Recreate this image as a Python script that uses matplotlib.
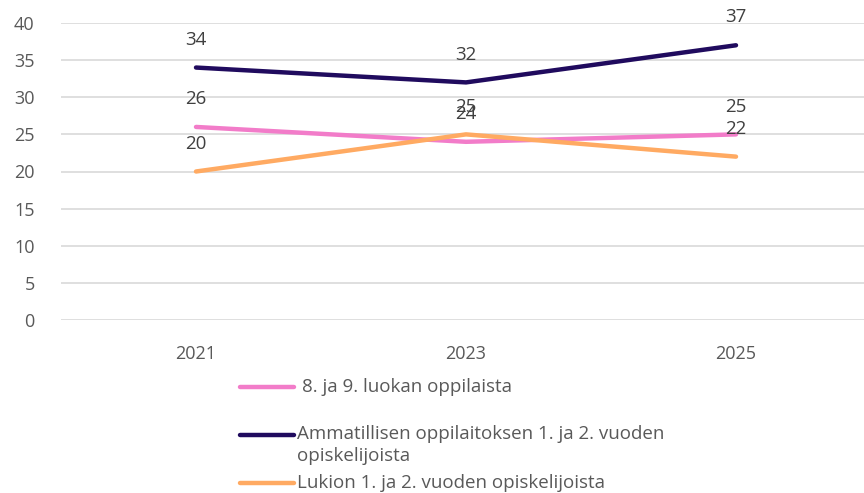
import matplotlib.pyplot as plt
from matplotlib.lines import Line2D

plt.rcParams['font.family'] = ['Open Sans', 'DejaVu Sans']

years = ['2021', '2023', '2025']
perus = [26, 24, 25]
ammatillinen = [34, 32, 37]
lukio = [20, 25, 22]

series_names = [
    '8. ja 9. luokan oppilaista',
    'Ammatillisen oppilaitoksen 1. ja 2. vuoden\nopiskelijoista',
    'Lukion 1. ja 2. vuoden opiskelijoista',
]
colors = ['#F27CC9', '#200B5E', '#FFAA62']
text_col = '#404040'
tick_col = '#595959'

W, H = 864, 493
fig = plt.figure(figsize=(W / 100, H / 100), dpi=100)
ax = fig.add_axes([61 / W, 173 / H, 803 / W, 297 / H])

x = range(len(years))
for vals, col in zip([perus, ammatillinen, lukio], colors):
    ax.plot(x, vals, color=col, lw=3.2, solid_capstyle='round', zorder=3)
    for xi, v in zip(x, vals):
        ax.annotate(str(v), (xi, v), xytext=(0, 20), textcoords='offset points',
                    ha='center', va='center', fontsize=13.5, color=text_col)

ax.set_ylim(0, 40)
ax.set_yticks(range(0, 41, 5))
ax.set_xlim(-0.5, 2.5 - 7 / 270)
ax.set_xticks(list(x))
ax.set_xticklabels(years)
ax.grid(axis='y', color='#D9D9D9', lw=1.2)
ax.set_axisbelow(True)
for s in ax.spines.values():
    s.set_visible(False)
ax.tick_params(length=0, labelsize=13, colors=tick_col)
ax.tick_params(axis='x', pad=18)
ax.tick_params(axis='y', pad=19)

# legend drawn by hand so the handle sits on the first text line
legend_rows = [(387, 302), (435, 297), (483, 297)]
for (ry, tx), name, col in zip(legend_rows, series_names, colors):
    fig.add_artist(Line2D([240 / W, 294 / W], [1 - ry / H, 1 - ry / H], color=col, lw=3.2,
                          solid_capstyle='round', transform=fig.transFigure))
    if '\n' in name:
        fig.text(tx / W, 1 - (ry - 10) / H, name, ha='left', va='top',
                 fontsize=13.5, color=tick_col, linespacing=1.3)
    else:
        fig.text(tx / W, 1 - ry / H, name, ha='left', va='center',
                 fontsize=13.5, color=tick_col)

fig.savefig('out.png', dpi=100)
